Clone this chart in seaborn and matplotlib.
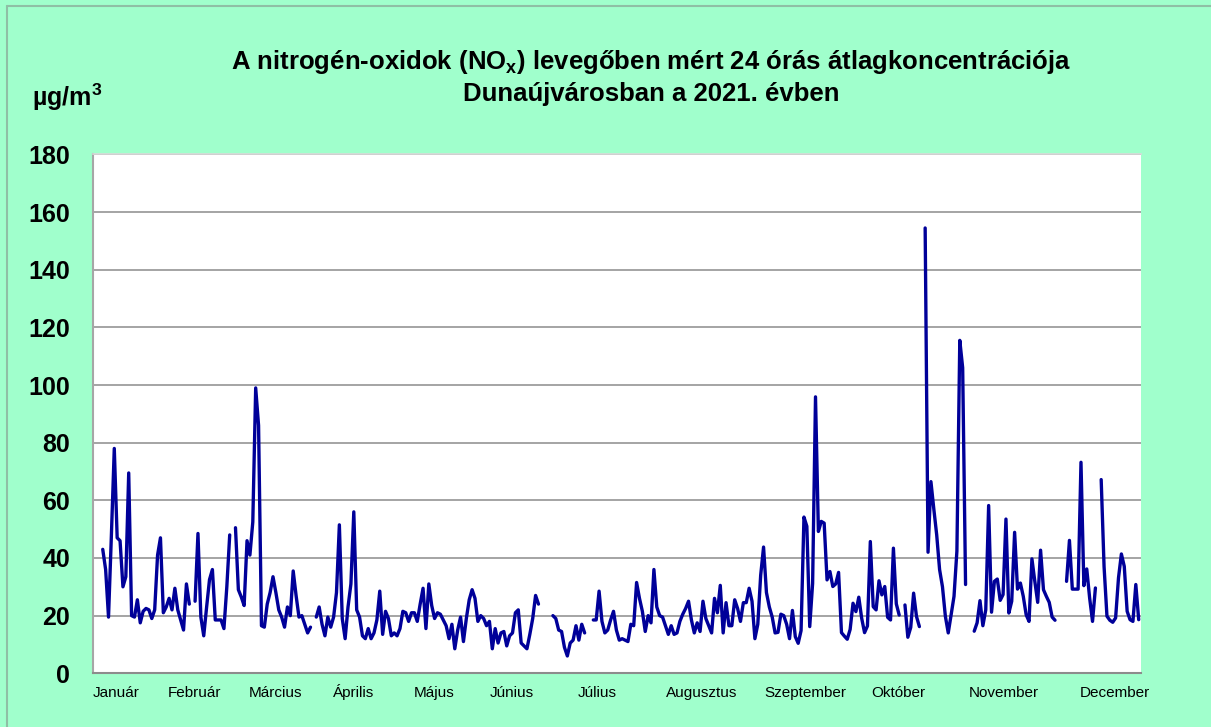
import numpy as np
import pandas as pd
import matplotlib
matplotlib.use("Agg")
import matplotlib.pyplot as plt
from matplotlib.lines import Line2D
from matplotlib.transforms import blended_transform_factory
import seaborn as sns

N = np.nan

# Daily 24-hour mean NOx concentrations (µg/m3); NaN = missing day
nox_part1 = [N, N, N, 43, 36, 19.5, 48, 78, 47, 46, 30, 33.5, 69.5, 20, 19.5, 25.5, 17.5, 21.5,
             22.5, 22, 19, 22, 41, 47, 21, 23, 26, 22, 29.5, 22, 18.5, 15, 31, 24, N, 25, 48.5,
             19.5, 13, 23, 32.5, 36, 18.5, 18.5, 18.5, 15.5, 30, 48, N, 50.5, 29, 26.5, 23.5, 46,
             41, 52.5, 99, 86, 16.5, 16]
nox_part2 = [24, 28, 33.5, 28, 22, 19.5, 16, 23, 20, 35.5, 27, 19.5, 20, 17, 14, 16, N, 19.5,
             23, 17, 13, 19.5, 16, 19.5, 28, 51.5, 19, 12, 23, 31, 56, 22, 19.5, 13, 12, 15.5,
             12, 14, 18.5, 28.5, 13.5, 21.5, 19, 13, 14, 13, 15.5, 21.5, 21, 18, 21, 21, 18, 24,
             29.5, 15.5, 31, 23.5, 19, 21]
nox_part3 = [20.5, 18.5, 16.5, 12, 17, 8.5, 15, 19.5, 11, 19, 25.5, 29, 26, 18, 20, 19, 16.5,
             18, 8.5, 15.5, 10.5, 14, 14.5, 9.5, 13, 14, 21, 22, 10.5, 9.5, 8.5, 13.5, 19, 27, 24,
             N, N, N, N, 20, 19, 15, 14.5, 9, 6, 10.5, 11.5, 16.5, 11.5, 17, 14, N, N, 18.5, 18.5,
             28.5, 18, 14, 15, 18.5]
nox_part4 = [21.5, 15, 11.5, 12, 11.5, 11, 17, 16.5, 31.5, 26, 21.5, 14.5, 20, 17.5, 36, 23, 20,
             19.5, 16.5, 13.5, 16.5, 13.5, 14, 18, 20.5, 22.5, 25, 18.5, 14, 17.5, 14.5, 25, 19,
             16.5, 14, 26, 21, 30.5, 14, 24.5, 16.5, 16.5, 25.5, 22.5, 18, 24.5, 24.5, 29.5, 25,
             12, 17, 34, 43.8, 28, 23, 19.5, 14, 14.2, 20.5, 20]
nox_part5 = [17, 12, 21.8, 12.7, 10.4, 14.8, 54.2, 51, 16.2, 31.2, 95.9, 49.2, 52.7, 52.1, 32.4,
             35.3, 30.1, 31, 35, 14.1, 12.9, 11.8, 15.2, 24.3, 21.4, 26.4, 19.1, 14.1, 16.4, 45.7,
             23.1, 22, 32.1, 27.2, 30.1, 19.4, 18.5, 43.4, 24.1, 20.2, N, 23.7, 12.5, 15.9, 27.8,
             19.7, 16.2, N, 154.5, 42, 66.5, 57, 48, 36, 30, 19.8, 14, 20.3, 26.7, 42.4]
nox_part6 = [115.5, 106, 30.8, N, N, 14.6, 17.5, 25.2, 16.5, 22, 58.2, 21.2, 31.9, 32.7, 25.3,
             27.3, 53.5, 20.9, 25, 48.9, 29.2, 31.3, 26.7, 20.3, 18, 39.7, 31.9, 24.6, 42.7, 29,
             26.7, 24.6, 19.5, 18.4, N, N, N, 31.9, 46.1, 29.2, 29.2, 29.2, 73.2, 30.4, 36.2,
             26.1, 18, 29.6, N, 67.2, 37, 19.8, 18.4, 17.7, 19.2, 33.1, 41.4, 37.1, 21.5, 18.6,
             18, 30.8, 18.6]

months = ["Január", "Február", "Március", "Április", "Május", "Június", "Július",
          "Augusztus", "Szeptember", "Október", "November", "December"]

title_line1 = "A nitrogén-oxidok (NO$_\\mathbf{x}$) levegőben mért 24 órás átlagkoncentrációja"
title_line2 = "Dunaújvárosban a 2021. évben"
unit_label = "µg/m$^\\mathbf{3}$"

# ---------------------------------------------------------------------------
values = nox_part1 + nox_part2 + nox_part3 + nox_part4 + nox_part5 + nox_part6
df = pd.DataFrame({"day": np.arange(len(values)), "nox": values})
df["segment"] = df["nox"].isna().cumsum()
df = df.dropna()

sns.set_style("white")
plt.rcParams["font.family"] = ["Liberation Sans", "DejaVu Sans"]
plt.rcParams["mathtext.fontset"] = "custom"
plt.rcParams["mathtext.bf"] = "Liberation Sans:bold"
plt.rcParams["mathtext.rm"] = "Liberation Sans"
plt.rcParams["text.color"] = "black"
plt.rcParams["xtick.color"] = "black"
plt.rcParams["ytick.color"] = "black"

BG = "#A0FFCC"
fig = plt.figure(figsize=(12.11, 7.27), dpi=100, facecolor=BG)
ax = fig.add_axes([0.0765, 0.0739, 0.8657, 0.7136])
ax.set_facecolor("white")

sns.lineplot(data=df, x="day", y="nox", units="segment", estimator=None,
             color="#000099", linewidth=2.4, ax=ax, legend=False)

ax.set_xlim(-0.33, 362.8)
ax.set_ylim(0, 180)
ax.set_yticks(range(0, 181, 20))
ax.yaxis.grid(True, color="#8C8C8C", linewidth=1.1)
ax.xaxis.grid(False)
ax.set_axisbelow(True)
ax.set_xlabel("")
ax.set_ylabel("")

ax.spines["left"].set_color("#A6A6A6")
ax.spines["left"].set_linewidth(1.5)
ax.spines["bottom"].set_color("#8C8C8C")
ax.spines["bottom"].set_linewidth(1.5)
ax.spines["top"].set_color("#D9D9D9")
ax.spines["top"].set_linewidth(1.2)
ax.spines["right"].set_visible(False)

# daily minor ticks on the x axis; month names placed on a common baseline
ax.set_xticks([])
ax.set_xticks(np.arange(-0.5, 363, 1.0), minor=True)
ax.tick_params(axis="x", which="minor", length=3, width=0.8, color="#8C8C8C", direction="out")
label_pos = [7.7, 34.8, 62.8, 89.8, 117.9, 144.9, 174.3, 210.4, 246.4, 278.6, 315.3, 353.8]
trans = blended_transform_factory(ax.transData, ax.transAxes)
for pos, name in zip(label_pos, months):
    ax.text(pos, -0.0457, name, transform=trans, ha="center", va="baseline",
            fontsize=11, color="black")

ax.tick_params(axis="y", which="major", length=4.3, width=1, color="#8C8C8C",
               direction="out", pad=12, labelsize=18, labelcolor="black")
for lab in ax.get_yticklabels():
    lab.set_fontweight("bold")

fig.text(0.5376, 0.9147, title_line1, ha="center", va="center", fontsize=18.5, fontweight="bold")
fig.text(0.5376, 0.8707, title_line2, ha="center", va="center", fontsize=18.5, fontweight="bold")
fig.text(0.0553, 0.866, unit_label, ha="center", va="center", fontsize=18, fontweight="bold")

# outer chart border (left and top)
fig.add_artist(Line2D([7 / 1211, 7 / 1211], [0, 1 - 6 / 727], transform=fig.transFigure,
                      color="#8FBFA5", linewidth=1.5))
fig.add_artist(Line2D([7 / 1211, 1], [1 - 6 / 727, 1 - 6 / 727], transform=fig.transFigure,
                      color="#8FBFA5", linewidth=1.5))

fig.savefig("out.png", dpi=100, facecolor=BG)
